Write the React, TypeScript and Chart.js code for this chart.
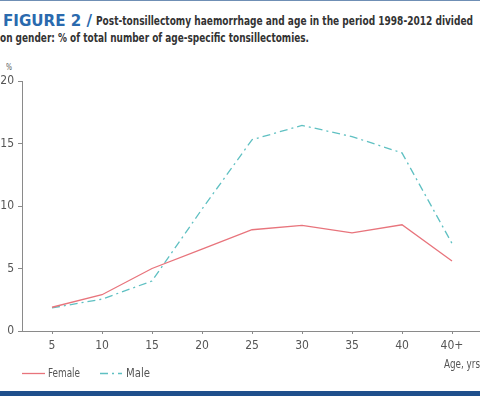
import React, { useEffect, useLayoutEffect, useRef } from "react";
import { Chart, registerables } from "chart.js";

Chart.register(...registerables);

const ageLabels = ["5", "10", "15", "20", "25", "30", "35", "40", "40+"];
const agePositions = [5, 10, 15, 20, 25, 30, 35, 40, 45];
const femaleValues = [1.9, 2.9, 5.0, 6.55, 8.1, 8.45, 7.85, 8.5, 5.6];
const maleValues = [1.85, 2.55, 4.0, 9.75, 15.3, 16.45, 15.55, 14.25, 7.0];
const yTicks = [0, 5, 10, 15, 20];

const FEMALE_COLOR = "#e8747c";
const MALE_COLOR = "#5fc0c2";
const NARROW = '"DejaVu Sans Condensed", "DejaVu Sans", sans-serif';

function FitText({
  width,
  left,
  top,
  style,
  children,
}: {
  width: number;
  left: number;
  top: number;
  style?: React.CSSProperties;
  children: React.ReactNode;
}) {
  const ref = useRef<HTMLSpanElement | null>(null);
  useLayoutEffect(() => {
    const el = ref.current;
    if (!el) return;
    el.style.transform = "none";
    const w = el.getBoundingClientRect().width;
    if (w > 0) el.style.transform = `scaleX(${width / w})`;
  }, [width]);
  return (
    <span
      ref={ref}
      style={{
        position: "absolute",
        left,
        top,
        display: "inline-block",
        whiteSpace: "nowrap",
        transformOrigin: "left center",
        lineHeight: "normal",
        fontFamily: NARROW,
        ...style,
      }}
    >
      {children}
    </span>
  );
}

export default function App() {
  const canvasRef = useRef<HTMLCanvasElement | null>(null);

  useEffect(() => {
    const canvas = canvasRef.current;
    if (!canvas) return;
    const chart = new Chart(canvas, {
      type: "line",
      data: {
        datasets: [
          {
            label: "Female",
            data: agePositions.map((x, i) => ({ x, y: femaleValues[i] })),
            borderColor: FEMALE_COLOR,
            borderWidth: 1.3,
            pointRadius: 0,
            tension: 0,
            fill: false,
          },
          {
            label: "Male",
            data: agePositions.map((x, i) => ({ x, y: maleValues[i] })),
            borderColor: MALE_COLOR,
            borderWidth: 1.3,
            borderDash: [8, 4, 2, 4],
            pointRadius: 0,
            tension: 0,
            fill: false,
          },
        ],
      },
      options: {
        animation: false,
        responsive: false,
        maintainAspectRatio: false,
        layout: { padding: { top: 21, right: 0, left: 0, bottom: 0 } },
        plugins: { legend: { display: false }, tooltip: { enabled: false } },
        scales: {
          x: {
            type: "linear",
            min: 2,
            max: 47.8,
            afterBuildTicks: (s: any) => {
              s.ticks = agePositions.map((v) => ({ value: v }));
            },
            afterFit: (s: any) => {
              s.height = 29;
            },
            ticks: {
              autoSkip: false,
              maxRotation: 0,
              padding: 5,
              color: "#555",
              font: { family: NARROW, size: 12 },
              callback: (v: any) => ageLabels[agePositions.indexOf(Number(v))] ?? "",
            },
            grid: { drawOnChartArea: false, tickLength: 3, color: "#8a8a8a" },
            border: { color: "#8a8a8a", width: 1 },
          },
          y: {
            min: 0,
            max: 20,
            afterBuildTicks: (s: any) => {
              s.ticks = yTicks.map((v) => ({ value: v }));
            },
            afterFit: (s: any) => {
              s.width = 22;
            },
            ticks: {
              padding: 4,
              color: "#555",
              font: { family: NARROW, size: 12 },
            },
            grid: { drawOnChartArea: false, tickLength: 4, color: "#8a8a8a" },
            border: { color: "#8a8a8a", width: 1 },
          },
        },
      },
    });
    return () => chart.destroy();
  }, []);

  const titleStyle: React.CSSProperties = { fontWeight: 700, fontSize: 12, color: "#333" };
  const labelStyle: React.CSSProperties = { fontSize: 12, color: "#555" };

  return (
    <div
      style={{
        position: "fixed",
        left: 0,
        top: 0,
        width: 480,
        height: 396,
        background: "#fff",
        overflow: "hidden",
      }}
    >
      <div style={{ position: "absolute", left: 0, top: 0, width: 480, height: 1, background: "#6f8fb5" }} />
      <FitText
        width={89}
        left={3}
        top={11}
        style={{
          fontFamily: '"DejaVu Sans", sans-serif',
          fontWeight: 700,
          fontSize: 16,
          color: "#2a6aae",
        }}
      >
        FIGURE 2 /
      </FitText>
      <FitText width={377} left={96} top={14} style={titleStyle}>
        Post-tonsillectomy haemorrhage and age in the period 1998-2012 divided
      </FitText>
      <FitText width={309} left={0} top={31} style={titleStyle}>
        on gender: % of total number of age-specific tonsillectomies.
      </FitText>
      <FitText width={6} left={6} top={62} style={{ fontSize: 9, color: "#555" }}>
        %
      </FitText>
      <canvas
        ref={canvasRef}
        width={480}
        height={300}
        style={{ position: "absolute", left: 0, top: 60, width: 480, height: 300 }}
      />
      <FitText width={36} left={444} top={357} style={labelStyle}>
        Age, yrs
      </FitText>
      <svg width={480} height={10} style={{ position: "absolute", left: 0, top: 368, display: "block" }}>
        <line x1={22} y1={5.5} x2={45} y2={5.5} stroke={FEMALE_COLOR} strokeWidth={1.3} />
        <line
          x1={100}
          y1={5.5}
          x2={122}
          y2={5.5}
          stroke={MALE_COLOR}
          strokeWidth={1.3}
          strokeDasharray="8 4 2 4"
        />
      </svg>
      <FitText width={32} left={48} top={366} style={labelStyle}>
        Female
      </FitText>
      <FitText width={24} left={126} top={366} style={labelStyle}>
        Male
      </FitText>
      <div style={{ position: "absolute", left: 0, top: 391, width: 480, height: 5, background: "#1f4f8c" }} />
    </div>
  );
}
